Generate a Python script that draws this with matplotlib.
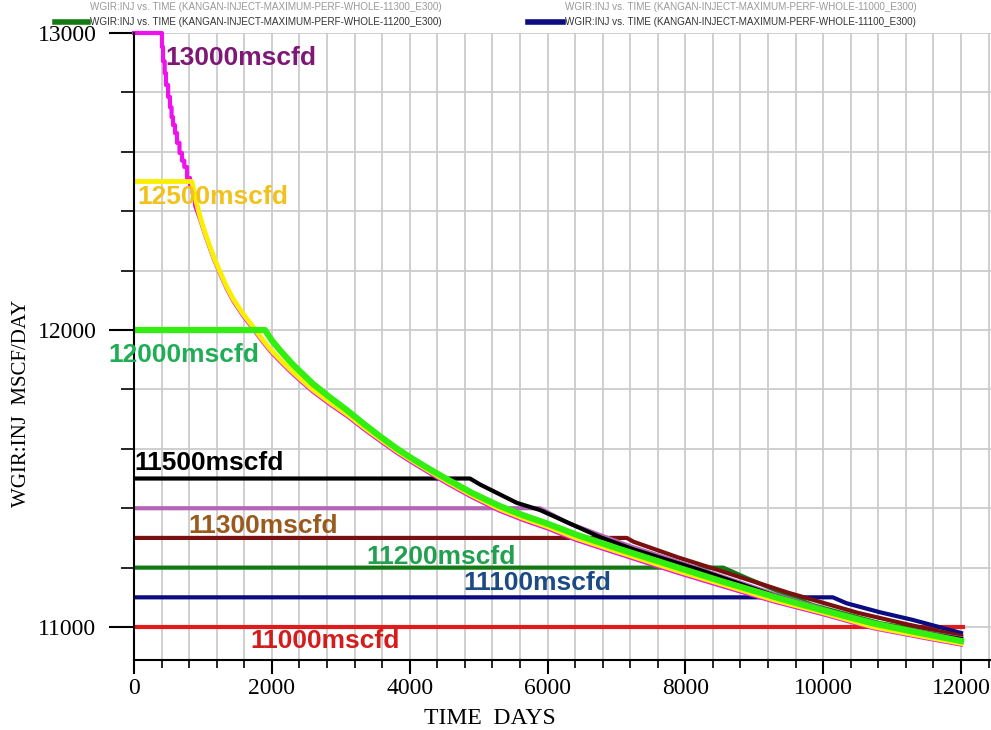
import matplotlib
matplotlib.use("Agg")
import matplotlib.pyplot as plt
from matplotlib.ticker import MultipleLocator
from matplotlib.lines import Line2D

# =============================================
#                 DATA
# =============================================

# 13000 mscfd (magenta) - plateau then stair-stepped decline
t_13000 = [0, 406, 406, 421, 421, 445, 445, 464, 464, 495, 495, 522, 522, 545, 545, 566, 566,
           595, 595, 624, 624, 660, 660, 696, 696, 730, 730, 769, 769, 813, 813, 850, 850, 885,
           885, 958, 1030, 1100, 1170, 1250, 1340, 1440, 1580, 1730, 1850, 1970, 2100, 2260,
           2430, 2600, 2850, 3100, 3350, 3600, 3820, 4050, 4300, 4540, 4900, 5300, 5650, 6000,
           6430, 7000, 7900, 8500, 9300, 10000, 10730, 11500, 12000]
q_13000 = [13000, 13000, 12953, 12953, 12905, 12905, 12865, 12865, 12825, 12825, 12785, 12785,
           12750, 12750, 12717, 12717, 12690, 12690, 12663, 12663, 12630, 12630, 12596, 12596,
           12570, 12570, 12549, 12549, 12512, 12512, 12485, 12485, 12461, 12461, 12420, 12373,
           12322, 12276, 12232, 12189, 12142, 12098, 12049, 12004, 11966, 11931, 11899, 11862,
           11826, 11792, 11749, 11709, 11664, 11622, 11586, 11552, 11517, 11484, 11438, 11392,
           11360, 11332, 11292, 11249, 11182, 11140, 11085, 11043, 10996, 10962, 10941]

# 12500 mscfd (yellow)
t_12500 = [0, 840, 900, 960, 1030, 1100, 1170, 1250, 1340, 1440, 1580, 1730, 1850, 1970, 2100,
           2260, 2430, 2600, 2850, 3100, 3350, 3600, 3820, 4050, 4300, 4540, 4900, 5300, 5650,
           6000, 6430, 7000, 7900, 8500, 9300, 10000, 10730, 11500, 12000]
q_12500 = [12500, 12500, 12435, 12380, 12328, 12282, 12238, 12195, 12148, 12104, 12055, 12010,
           11972, 11937, 11905, 11868, 11832, 11798, 11755, 11715, 11670, 11628, 11592, 11558,
           11523, 11490, 11444, 11398, 11366, 11338, 11298, 11255, 11188, 11146, 11090, 11048,
           11000, 10966, 10945]

# 12000 mscfd (lime)
t_12000 = [0, 1900, 2000, 2118, 2300, 2600, 2850, 3090, 3330, 3570, 3800, 4050, 4300, 4540,
           4900, 5300, 5650, 6000, 6430, 7000, 7922, 8500, 9373, 10000, 10730, 11300, 12000]
q_12000 = [12000, 12000, 11965, 11932, 11885, 11818, 11772, 11730, 11685, 11642, 11603, 11565,
           11530, 11498, 11452, 11408, 11376, 11348, 11310, 11266, 11198, 11156, 11096, 11056,
           11012, 10985, 10953]

# 11500 mscfd (black)
t_11500 = [0, 4875, 5020, 5555, 5890, 6760, 7240, 8210, 9300, 10700, 12000]
q_11500 = [11500, 11500, 11480, 11418, 11394, 11303, 11262, 11192, 11105, 11010, 10960]

# 11400 mscfd (purple)
t_11400 = [0, 5890, 6300, 6760, 7200, 8000, 9300, 10700, 12000]
q_11400 = [11400, 11400, 11350, 11310, 11272, 11212, 11110, 11012, 10962]

# 11300 mscfd (dark red)
t_11300 = [0, 7150, 7250, 7900, 8500, 9500, 10500, 11200, 12000]
q_11300 = [11300, 11300, 11287, 11234, 11190, 11115, 11048, 11010, 10970]

# 11200 mscfd (dark green)
t_11200 = [0, 8550, 8890, 9370, 9850, 10820, 12000]
q_11200 = [11200, 11200, 11165, 11118, 11074, 11013, 10966]

# 11100 mscfd (navy)
t_11100 = [0, 10140, 10340, 10820, 11300, 12000]
q_11100 = [11100, 11100, 11080, 11050, 11024, 10980]

# 11000 mscfd (red)
t_11000 = [0, 12030]
q_11000 = [11000, 11000]

# Curve labels: text, colour, left edge (days), centre (mscf/day)
labels = ["13000mscfd", "12500mscfd", "12000mscfd", "11500mscfd",
          "11300mscfd", "11200mscfd", "11100mscfd", "11000mscfd"]
label_colors = ["#7e1775", "#f2c21c", "#1fae55", "#000000",
                "#9a5a1e", "#22a050", "#1c4a85", "#d41c1c"]
label_t = [450, 44, -377, 0, 784, 3366, 4774, 1683]
label_q = [12916, 12448, 11916, 11552, 11340, 11236, 11148, 10953]

# =============================================
#                 PLOT
# =============================================

W, H = 991, 730
fig = plt.figure(figsize=(W / 100, H / 100), dpi=100)
ax = fig.add_axes([134 / W, 70 / H, (W - 134) / W, 627 / H])

ax.plot(t_11000, q_11000, color="#e01b1b", lw=3.0)
ax.plot(t_11100, q_11100, color="#0c0c82", lw=3.0)
ax.plot(t_11200, q_11200, color="#137a13", lw=3.0)
ax.plot(t_11300, q_11300, color="#7b1010", lw=3.0)
ax.plot(t_11400, q_11400, color="#b466b4", lw=3.0)
ax.plot(t_11500, q_11500, color="#000000", lw=3.0)
ax.plot(t_13000, q_13000, color="#ee12ee", lw=3.0, clip_on=False)
ax.plot(t_12500, q_12500, color="#f8f000", lw=3.5)
ax.plot(t_12000, q_12000, color="#33ee11", lw=4.5)

for txt, c, tx, qy in zip(labels, label_colors, label_t, label_q):
    ax.text(tx, qy, txt, color=c, fontsize=19, fontweight="bold",
            family="Liberation Sans", ha="left", va="center")

ax.set_xlim(0, 12435)
ax.set_ylim(10889, 13000)
ax.set_xticks(range(0, 12001, 2000))
ax.xaxis.set_minor_locator(MultipleLocator(400))
ax.set_yticks([11000, 12000, 13000])
ax.yaxis.set_minor_locator(MultipleLocator(200))
ax.set_axisbelow(True)
ax.grid(which="both", color="#cccccc", lw=1.3)

for s in ["top", "right"]:
    ax.spines[s].set_visible(False)
for s in ["left", "bottom"]:
    ax.spines[s].set_linewidth(1.5)

ax.tick_params(axis="y", which="major", length=18, width=1.5, pad=9)
ax.tick_params(axis="y", which="minor", length=9.5, width=1.2)
ax.tick_params(axis="x", which="major", length=10, width=1.5, pad=3)
ax.tick_params(axis="x", which="minor", length=6, width=1.2)
for lab in ax.get_xticklabels() + ax.get_yticklabels():
    lab.set_fontfamily("Liberation Serif")
    lab.set_fontsize(17)

fig.text(490 / W, 1 - 718 / H, "TIME  DAYS", family="Liberation Serif", fontsize=17,
         ha="center", va="center")
fig.text(22 / W, 1 - 403 / H, "WGIR:INJ  MSCF/DAY", family="Liberation Serif", fontsize=15,
         ha="center", va="center", rotation=90)

# legend strip at the top
leg_font = ["Liberation Sans Narrow", "Liberation Sans"]
fig.text(90 / W, 1 - 7 / H, "WGIR:INJ vs. TIME (KANGAN-INJECT-MAXIMUM-PERF-WHOLE-11300_E300)",
         family=leg_font, fontsize=7.1, color="#999999", va="center")
fig.text(565 / W, 1 - 7 / H, "WGIR:INJ vs. TIME (KANGAN-INJECT-MAXIMUM-PERF-WHOLE-11000_E300)",
         family=leg_font, fontsize=7.1, color="#999999", va="center")
fig.add_artist(Line2D([55 / W, 88 / W], [1 - 22 / H] * 2, color="#137a13", lw=4))
fig.add_artist(Line2D([528 / W, 563 / W], [1 - 22 / H] * 2, color="#0c0c82", lw=4))
fig.text(90 / W, 1 - 22 / H, "WGIR:INJ vs. TIME (KANGAN-INJECT-MAXIMUM-PERF-WHOLE-11200_E300)",
         family=leg_font, fontsize=7.1, color="#333333", va="center")
fig.text(565 / W, 1 - 22 / H, "WGIR:INJ vs. TIME (KANGAN-INJECT-MAXIMUM-PERF-WHOLE-11100_E300)",
         family=leg_font, fontsize=7.1, color="#333333", va="center")

fig.savefig("out.png", dpi=100)
